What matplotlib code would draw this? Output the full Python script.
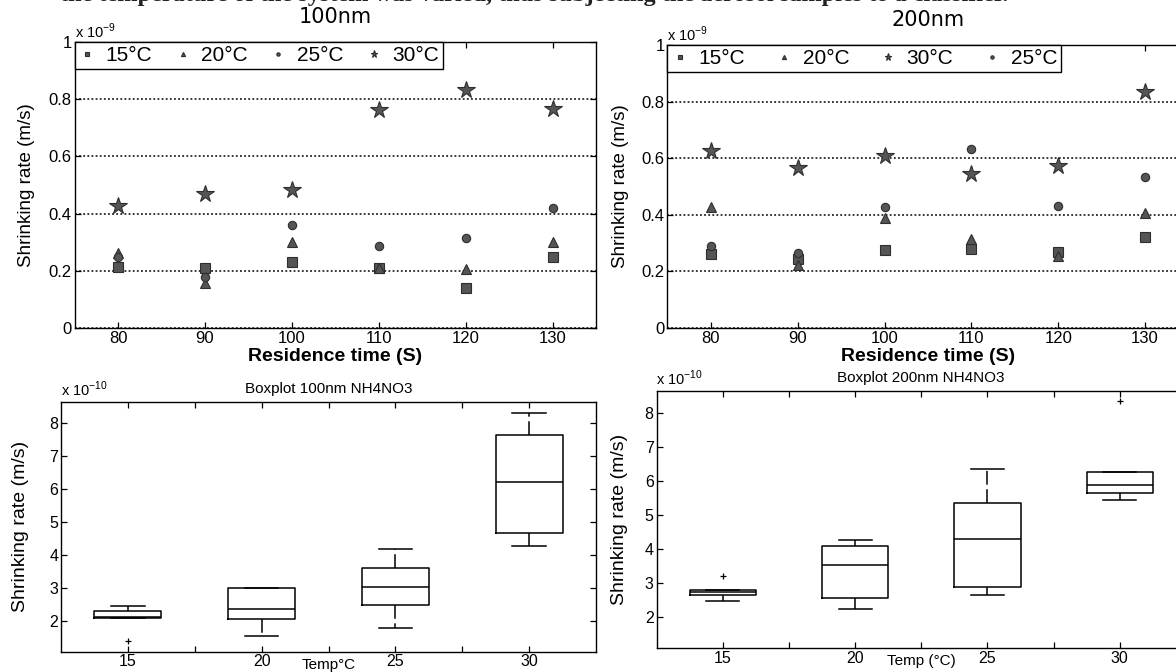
import numpy as np
import matplotlib
matplotlib.use("Agg")
import matplotlib.pyplot as plt
from matplotlib.ticker import FixedLocator, FuncFormatter

plt.rcParams['font.family'] = ['Liberation Sans', 'DejaVu Sans']
plt.rcParams['mathtext.fontset'] = 'custom'
plt.rcParams['mathtext.rm'] = 'Liberation Sans'

# ---------------- data (shrinking rate, units of 1e-9 m/s) ----------------
residence_time = [80, 90, 100, 110, 120, 130]
temps = ['15', '20', '25', '30']

nm100_15 = [0.212, 0.210, 0.230, 0.210, 0.139, 0.247]
nm100_20 = [0.263, 0.156, 0.300, 0.210, 0.205, 0.300]
nm100_25 = [0.250, 0.180, 0.360, 0.288, 0.316, 0.418]
nm100_30 = [0.428, 0.468, 0.482, 0.762, 0.832, 0.766]

nm200_15 = [0.263, 0.245, 0.277, 0.279, 0.268, 0.320]
nm200_20 = [0.426, 0.222, 0.389, 0.316, 0.254, 0.407]
nm200_25 = [0.289, 0.265, 0.428, 0.634, 0.430, 0.534]
nm200_30 = [0.626, 0.566, 0.607, 0.543, 0.572, 0.835]

W, H = 1176, 672
fig = plt.figure(figsize=(W / 100, H / 100), dpi=100)


def px_axes(l, t, r, b):
    return fig.add_axes([l / W, 1 - b / H, (r - l) / W, (b - t) / H])


# partially visible line of document text at the very top (cut by the page crop)
fig.text(60 / W, 1 - 1.5 / H,
         "the temperature of the system was varied, thus subjecting the aerosol samples to a classifier.",
         fontsize=17.5, family='Liberation Serif', fontweight='bold', va='baseline', ha='left',
         color='#222222')

MFC = '#555555'
MEC = '#2e2e2e'
styles = {
    '15': dict(marker='s', ms=6.5),
    '20': dict(marker='^', ms=7.5),
    '25': dict(marker='o', ms=6.0),
    '30': dict(marker='*', ms=13),
}


def scatter_panel(ax, series, order, title, ylab_dx, colsp):
    for key in order:
        ax.plot(residence_time, series[key], ls='none', mfc=MFC, mec=MEC, mew=0.8,
                label=key + '°C', zorder=3, **styles[key])
    ax.set_xlim(75, 135)
    ax.set_ylim(0, 1)
    ax.xaxis.set_major_locator(FixedLocator(residence_time))
    ax.yaxis.set_major_locator(FixedLocator([0, 0.2, 0.4, 0.6, 0.8, 1.0]))
    ax.yaxis.set_major_formatter(FuncFormatter(lambda v, p: f"{v:g}"))
    ax.tick_params(direction='in', top=True, right=True, length=4, width=0.9,
                   labelsize=12, pad=2)
    ax.yaxis.grid(True, ls=(0, (1.2, 1.5)), color='black', lw=1.1, zorder=1)
    for s in ax.spines.values():
        s.set_linewidth(1.0)
    ax.set_xlabel('Residence time (S)', fontsize=14, fontweight='bold', va='top')
    ax.xaxis.set_label_coords(0.5, -20 / 286)
    ax.set_ylabel('Shrinking rate (m/s)', fontsize=13.5, va='center')
    ax.yaxis.set_label_coords(-ylab_dx / ax.bbox.width, 0.5)
    ax.text(0.5, 1 + 25 / 286, title, transform=ax.transAxes, ha='center', va='center',
            fontsize=15, family='DejaVu Sans')
    ax.text(0.0, 1.002, r'x 10$^{\mathregular{-9}}$', transform=ax.transAxes,
            ha='left', va='bottom', fontsize=10.5)
    leg = ax.legend(ncol=4, loc='upper left', bbox_to_anchor=(0, 1), borderaxespad=0,
                    frameon=True, fancybox=False, edgecolor='black', fontsize=15,
                    markerscale=0.4, handlelength=0.8, handletextpad=0.5,
                    columnspacing=colsp, borderpad=0.2, framealpha=1)
    leg.get_frame().set_linewidth(1.0)
    return ax


ax1 = px_axes(74.6, 42, 596, 328)
scatter_panel(ax1, {'15': nm100_15, '20': nm100_20, '25': nm100_25, '30': nm100_30},
              ['15', '20', '25', '30'], '100nm', 48, 1.05)

ax2 = px_axes(667.4, 45, 1188.5, 328)
scatter_panel(ax2, {'15': nm200_15, '20': nm200_20, '25': nm200_25, '30': nm200_30},
              ['15', '20', '30', '25'], '200nm', 47, 1.45)


# ---------------- boxplots (MATLAB-style statistics) ----------------
def mquant(x, p):
    x = np.sort(np.asarray(x, float))
    n = len(x)
    pos = n * p + 0.5
    if pos <= 1:
        return x[0]
    if pos >= n:
        return x[-1]
    i = int(np.floor(pos))
    f = pos - i
    return x[i - 1] + f * (x[i] - x[i - 1])


def box_stats(vals):
    v = np.asarray(vals, float)
    q1, q3 = mquant(v, 0.25), mquant(v, 0.75)
    med = np.median(v)
    iqr = q3 - q1
    lo, hi = q1 - 1.5 * iqr, q3 + 1.5 * iqr
    inside = v[(v >= lo) & (v <= hi)]
    return dict(med=med, q1=q1, q3=q3, whislo=inside.min(), whishi=inside.max(),
                fliers=v[(v < lo) | (v > hi)])


def box_panel(ax, groups, title, xlab, ylab_dx, ylim):
    stats = [box_stats(np.asarray(g) * 10) for g in groups]  # to units of 1e-10
    ax.bxp(stats, positions=[1, 2, 3, 4], widths=0.5, showfliers=True,
           boxprops=dict(color='black', lw=1.1),
           medianprops=dict(color='black', lw=1.1),
           whiskerprops=dict(color='black', lw=1.1, ls=(0, (9, 3))),
           capprops=dict(color='black', lw=1.1),
           capwidths=0.25,
           flierprops=dict(marker='+', ms=4, mec='black', mew=0.9))
    ax.set_xlim(0.5, 4.5)
    ax.set_ylim(*ylim)
    ax.xaxis.set_major_locator(FixedLocator([1, 2, 3, 4]))
    ax.set_xticklabels(temps)
    ax.xaxis.set_minor_locator(FixedLocator([1.5, 2.5, 3.5]))
    ax.yaxis.set_major_locator(FixedLocator([2, 3, 4, 5, 6, 7, 8]))
    ax.tick_params(which='both', direction='in', top=True, right=True, length=4,
                   width=0.9, labelsize=11.5, pad=2)
    for s in ax.spines.values():
        s.set_linewidth(1.0)
    ax.set_title(title, fontsize=11, pad=6)
    ax.set_xlabel(xlab, fontsize=11, va='center')
    ax.xaxis.set_label_coords(0.5, -13 / ax.bbox.height)
    ax.set_ylabel('Shrinking rate (m/s)', fontsize=14, va='center')
    ax.yaxis.set_label_coords(-ylab_dx / ax.bbox.width, 0.5)
    ax.text(0.0, 1.012, r'x 10$^{\mathregular{-10}}$', transform=ax.transAxes,
            ha='left', va='bottom', fontsize=10.5)


ylim_box = (1.07, 8.66)
ax3 = px_axes(61, 401.7, 596, 651.7)
box_panel(ax3, [nm100_15, nm100_20, nm100_25, nm100_30], 'Boxplot 100nm NH4NO3',
          'Temp°C', 40, ylim_box)

ax4 = px_axes(656.5, 390.7, 1186, 648.3)
box_panel(ax4, [nm200_15, nm200_20, nm200_25, nm200_30], 'Boxplot 200nm NH4NO3',
          'Temp (°C)', 36.5, ylim_box)

fig.savefig('out.png', dpi=100)
